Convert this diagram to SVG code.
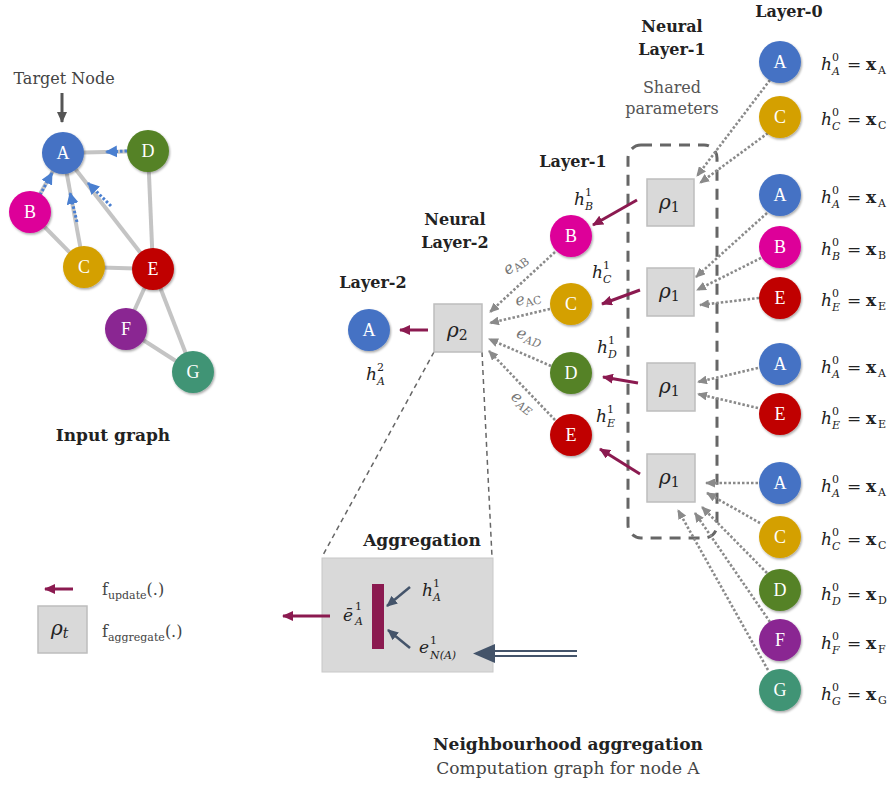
<svg xmlns="http://www.w3.org/2000/svg" width="893" height="787" viewBox="0 0 893 787">
<style>
text{font-family:"DejaVu Serif","Liberation Serif",serif;fill:#222}
.nl{fill:#fff;font-family:"Liberation Serif","DejaVu Serif",serif;font-size:18px;text-anchor:middle}
.ttl{font-weight:bold;font-size:16px;text-anchor:middle;fill:#222}
.reg{font-size:16px;text-anchor:middle;fill:#555}
.m{font-style:italic;font-size:17px}
.s{font-size:11px;font-style:italic}
.sr{font-size:11px;font-style:normal}
.edge{stroke:#c4c4c4;stroke-width:4;fill:none}
.bdot{stroke:#4a7fd0;stroke-width:3;stroke-dasharray:2.5 2;fill:none}
.gdot{stroke:#8a8a8a;stroke-width:2.6;stroke-dasharray:2.5 2;fill:none}
.pur{stroke:#8b1a50;stroke-width:3;fill:none}
.box{fill:#d9d9d9;stroke:#bdbdbd;stroke-width:1.5}
.rho{font-style:italic;font-size:20px}
.el{font-style:italic;font-size:16px;fill:#777;text-anchor:middle}
</style>
<defs>
<filter id="sh" x="-30%" y="-30%" width="160%" height="160%"><feDropShadow dx="1" dy="1.5" stdDeviation="1.2" flood-opacity="0.35"/></filter>
<marker id="ag" markerUnits="userSpaceOnUse" markerWidth="10" markerHeight="9" refX="9" refY="4.5" orient="auto"><path d="M0,0 L10,4.5 L0,9 z" fill="#8a8a8a"/></marker>
<marker id="ab" markerUnits="userSpaceOnUse" markerWidth="12" markerHeight="12" refX="11" refY="6" orient="auto"><path d="M0,0 L12,6 L0,12 z" fill="#4a7fd0"/></marker>
<marker id="ap" markerUnits="userSpaceOnUse" markerWidth="11" markerHeight="10" refX="10" refY="5" orient="auto"><path d="M0,0 L11,5 L0,10 z" fill="#8b1a50"/></marker>
<marker id="ak" markerUnits="userSpaceOnUse" markerWidth="11" markerHeight="10" refX="10" refY="5" orient="auto"><path d="M0,0 L11,5 L0,10 z" fill="#555"/></marker>
<marker id="an" markerUnits="userSpaceOnUse" markerWidth="11" markerHeight="10" refX="10" refY="5" orient="auto"><path d="M0,0 L11,5 L0,10 z" fill="#44546a"/></marker>
</defs>
<rect width="893" height="787" fill="#fff"/>

<!-- Input graph -->
<g id="input-graph-edges">
<line class="edge" x1="63" y1="153" x2="148" y2="151"/>
<line class="edge" x1="63" y1="153" x2="30" y2="212"/>
<line class="edge" x1="63" y1="153" x2="84" y2="267"/>
<line class="edge" x1="63" y1="153" x2="153" y2="269"/>
<line class="edge" x1="30" y1="212" x2="84" y2="267"/>
<line class="edge" x1="84" y1="267" x2="153" y2="269"/>
<line class="edge" x1="148" y1="151" x2="153" y2="269"/>
<line class="edge" x1="153" y1="269" x2="126" y2="329"/>
<line class="edge" x1="153" y1="269" x2="193" y2="372"/>
<line class="edge" x1="126" y1="329" x2="193" y2="372"/>
<line class="bdot" x1="127" y1="151" x2="106" y2="152" marker-end="url(#ab)"/>
<line class="bdot" x1="40" y1="195" x2="52" y2="173" marker-end="url(#ab)"/>
<line class="bdot" x1="77" y1="222" x2="70" y2="193" marker-end="url(#ab)"/>
<line class="bdot" x1="111" y1="206" x2="88" y2="183" marker-end="url(#ab)"/>
<line x1="62" y1="93" x2="62" y2="122" stroke="#555" stroke-width="3" marker-end="url(#ak)"/>
</g>
<text x="64" y="84" style="font-size:16px;text-anchor:middle;fill:#444">Target Node</text>
<g id="in-A"><circle cx="63" cy="153" r="21" fill="#4472c4" filter="url(#sh)"/><text class="nl" x="63" y="159">A</text></g>
<g id="in-D"><circle cx="148" cy="151" r="21" fill="#548226" filter="url(#sh)"/><text class="nl" x="148" y="157">D</text></g>
<g id="in-B"><circle cx="30" cy="212" r="21" fill="#dd0099" filter="url(#sh)"/><text class="nl" x="30" y="218">B</text></g>
<g id="in-C"><circle cx="84" cy="267" r="21" fill="#d4a000" filter="url(#sh)"/><text class="nl" x="84" y="273">C</text></g>
<g id="in-E"><circle cx="153" cy="269" r="21" fill="#c00000" filter="url(#sh)"/><text class="nl" x="153" y="275">E</text></g>
<g id="in-F"><circle cx="126" cy="329" r="21" fill="#8a2592" filter="url(#sh)"/><text class="nl" x="126" y="335">F</text></g>
<g id="in-G"><circle cx="193" cy="372" r="21" fill="#3f9474" filter="url(#sh)"/><text class="nl" x="193" y="378">G</text></g>
<text class="ttl" x="113" y="441" style="font-size:17px">Input graph</text>

<!-- Legend -->
<g id="legend">
<line class="pur" x1="73" y1="589" x2="45" y2="589" marker-end="url(#ap)"/>
<text x="102" y="595" style="font-size:16px;fill:#444">f<tspan style="font-size:11px" dy="4">update</tspan><tspan dy="-4">(.)</tspan></text>
<rect class="box" x="38" y="606" width="49" height="47"/>
<text class="rho" x="51" y="635">ρ<tspan class="s" style="font-size:14px" dy="3">t</tspan></text>
<text x="102" y="637" style="font-size:16px;fill:#444">f<tspan style="font-size:11px" dy="4">aggregate</tspan><tspan dy="-4">(.)</tspan></text>
</g>

<!-- Titles -->
<text class="ttl" x="373" y="288">Layer-2</text>
<text class="ttl" x="455" y="225">Neural</text>
<text class="ttl" x="455" y="248">Layer-2</text>
<text class="ttl" x="573" y="167">Layer-1</text>
<text class="ttl" x="672" y="32">Neural</text>
<text class="ttl" x="672" y="55">Layer-1</text>
<text class="reg" x="672" y="93">Shared</text>
<text class="reg" x="672" y="114">parameters</text>
<text class="ttl" x="789" y="17">Layer-0</text>
<text class="ttl" x="568" y="750" style="font-size:17px">Neighbourhood aggregation</text>
<text class="reg" x="568" y="774" style="font-size:17px;fill:#444">Computation graph for node A</text>

<!-- Connectors -->
<g id="connectors">
<rect x="628" y="145" width="89" height="393" rx="13" fill="none" stroke="#666" stroke-width="3" stroke-dasharray="11 8"/>
<line x1="434" y1="352" x2="323" y2="555" stroke="#666" stroke-width="1.5" stroke-dasharray="5 4"/>
<line x1="482" y1="352" x2="492" y2="557" stroke="#666" stroke-width="1.5" stroke-dasharray="5 4"/>
<line class="pur" x1="428" y1="330" x2="400" y2="330" marker-end="url(#ap)"/>
<line class="gdot" x1="555" y1="252" x2="490" y2="312" marker-end="url(#ag)"/>
<line class="gdot" x1="550" y1="309" x2="490" y2="323" marker-end="url(#ag)"/>
<line class="gdot" x1="551" y1="366" x2="489" y2="339" marker-end="url(#ag)"/>
<line class="gdot" x1="555" y1="420" x2="489" y2="351" marker-end="url(#ag)"/>
<line class="pur" x1="637" y1="200" x2="593" y2="225" marker-end="url(#ap)"/>
<line class="pur" x1="640" y1="290" x2="602" y2="304" marker-end="url(#ap)"/>
<line class="pur" x1="638" y1="383" x2="603" y2="377" marker-end="url(#ap)"/>
<line class="pur" x1="640" y1="474" x2="600" y2="449" marker-end="url(#ap)"/>
<line class="gdot" x1="770" y1="80" x2="697" y2="176" marker-end="url(#ag)"/>
<line class="gdot" x1="768" y1="133" x2="700" y2="183" marker-end="url(#ag)"/>
<line class="gdot" x1="767" y1="213" x2="696" y2="277" marker-end="url(#ag)"/>
<line class="gdot" x1="761" y1="258" x2="697" y2="290" marker-end="url(#ag)"/>
<line class="gdot" x1="759" y1="298" x2="700" y2="305" marker-end="url(#ag)"/>
<line class="gdot" x1="758" y1="368" x2="698" y2="382" marker-end="url(#ag)"/>
<line class="gdot" x1="758" y1="408" x2="698" y2="394" marker-end="url(#ag)"/>
<line class="gdot" x1="758" y1="483" x2="706" y2="483" marker-end="url(#ag)"/>
<line class="gdot" x1="760" y1="523" x2="707" y2="493" marker-end="url(#ag)"/>
<line class="gdot" x1="767" y1="573" x2="702" y2="507" marker-end="url(#ag)"/>
<line class="gdot" x1="770" y1="622" x2="695" y2="513" marker-end="url(#ag)"/>
<line class="gdot" x1="768" y1="670" x2="678" y2="510" marker-end="url(#ag)"/>
</g>

<!-- Edge labels -->
<text class="el" transform="translate(518,268) rotate(-36)">e<tspan class="sr" dy="3">AB</tspan></text>
<text class="el" transform="translate(529,303) rotate(-13)">e<tspan class="sr" dy="3">AC</tspan></text>
<text class="el" transform="translate(528,341) rotate(18)">e<tspan class="s" dy="3">AD</tspan></text>
<text class="el" transform="translate(520,406) rotate(38)">e<tspan class="s" dy="3">AE</tspan></text>

<!-- Layer-2 -->
<g id="l2-A"><circle cx="369" cy="330" r="21" fill="#4472c4" filter="url(#sh)"/><text class="nl" x="369" y="336">A</text></g>
<text class="m" x="366" y="380">h<tspan class="sr" x="377" y="371">2</tspan><tspan class="s" x="377" y="385">A</tspan></text>
<g id="rho2"><rect class="box" x="434" y="304" width="48" height="48"/><text class="rho" x="447" y="337">ρ<tspan class="sr" style="font-size:14px" dy="3">2</tspan></text></g>

<!-- Layer-1 nodes -->
<g id="l1-B"><circle cx="571" cy="236" r="21" fill="#dd0099" filter="url(#sh)"/><text class="nl" x="571" y="242">B</text></g>
<g id="l1-C"><circle cx="571" cy="304" r="21" fill="#d4a000" filter="url(#sh)"/><text class="nl" x="571" y="310">C</text></g>
<g id="l1-D"><circle cx="571" cy="373" r="21" fill="#548226" filter="url(#sh)"/><text class="nl" x="571" y="379">D</text></g>
<g id="l1-E"><circle cx="571" cy="435" r="21" fill="#c00000" filter="url(#sh)"/><text class="nl" x="571" y="441">E</text></g>
<text class="m" x="574" y="205">h<tspan class="sr" x="585" y="196">1</tspan><tspan class="s" x="585" y="210">B</tspan></text>
<text class="m" x="592" y="278">h<tspan class="sr" x="603" y="269">1</tspan><tspan class="s" x="603" y="283">C</tspan></text>
<text class="m" x="597" y="353">h<tspan class="sr" x="608" y="344">1</tspan><tspan class="s" x="608" y="358">D</tspan></text>
<text class="m" x="596" y="422">h<tspan class="sr" x="607" y="413">1</tspan><tspan class="s" x="607" y="427">E</tspan></text>

<!-- rho1 boxes -->
<g id="rho1-a"><rect class="box" x="647" y="179" width="47" height="47"/><text class="rho" x="659" y="209">ρ<tspan class="sr" style="font-size:14px" dy="3">1</tspan></text></g>
<g id="rho1-b"><rect class="box" x="647" y="268" width="47" height="48"/><text class="rho" x="659" y="298">ρ<tspan class="sr" style="font-size:14px" dy="3">1</tspan></text></g>
<g id="rho1-c"><rect class="box" x="647" y="363" width="48" height="48"/><text class="rho" x="659" y="393">ρ<tspan class="sr" style="font-size:14px" dy="3">1</tspan></text></g>
<g id="rho1-d"><rect class="box" x="647" y="454" width="48" height="48"/><text class="rho" x="659" y="484">ρ<tspan class="sr" style="font-size:14px" dy="3">1</tspan></text></g>

<!-- Layer-0 nodes -->
<g id="l0-A1"><circle cx="780" cy="62" r="21" fill="#4472c4" filter="url(#sh)"/><text class="nl" x="780" y="68">A</text></g>
<g id="l0-C1"><circle cx="780" cy="117" r="21" fill="#d4a000" filter="url(#sh)"/><text class="nl" x="780" y="123">C</text></g>
<g id="l0-A2"><circle cx="780" cy="195" r="21" fill="#4472c4" filter="url(#sh)"/><text class="nl" x="780" y="201">A</text></g>
<g id="l0-B2"><circle cx="780" cy="247" r="21" fill="#dd0099" filter="url(#sh)"/><text class="nl" x="780" y="253">B</text></g>
<g id="l0-E2"><circle cx="780" cy="298" r="21" fill="#c00000" filter="url(#sh)"/><text class="nl" x="780" y="304">E</text></g>
<g id="l0-A3"><circle cx="780" cy="364" r="21" fill="#4472c4" filter="url(#sh)"/><text class="nl" x="780" y="370">A</text></g>
<g id="l0-E3"><circle cx="780" cy="414" r="21" fill="#c00000" filter="url(#sh)"/><text class="nl" x="780" y="420">E</text></g>
<g id="l0-A4"><circle cx="780" cy="483" r="21" fill="#4472c4" filter="url(#sh)"/><text class="nl" x="780" y="489">A</text></g>
<g id="l0-C4"><circle cx="780" cy="537" r="21" fill="#d4a000" filter="url(#sh)"/><text class="nl" x="780" y="543">C</text></g>
<g id="l0-D4"><circle cx="780" cy="590" r="21" fill="#548226" filter="url(#sh)"/><text class="nl" x="780" y="596">D</text></g>
<g id="l0-F4"><circle cx="780" cy="640" r="21" fill="#8a2592" filter="url(#sh)"/><text class="nl" x="780" y="646">F</text></g>
<g id="l0-G4"><circle cx="780" cy="690" r="21" fill="#3f9474" filter="url(#sh)"/><text class="nl" x="780" y="696">G</text></g>

<!-- Layer-0 labels -->
<g id="l0-labels">
<text class="m" x="821" y="70">h<tspan class="sr" x="832" y="61">0</tspan><tspan class="s" x="832" y="75">A</tspan><tspan style="font-style:normal" x="847" y="70">=</tspan><tspan style="font-style:normal;font-weight:bold" x="866" y="70">x</tspan><tspan class="sr" x="878" y="74">A</tspan></text>
<text class="m" x="821" y="125">h<tspan class="sr" x="832" y="116">0</tspan><tspan class="s" x="832" y="130">C</tspan><tspan style="font-style:normal" x="847" y="125">=</tspan><tspan style="font-style:normal;font-weight:bold" x="866" y="125">x</tspan><tspan class="sr" x="878" y="129">C</tspan></text>
<text class="m" x="821" y="203">h<tspan class="sr" x="832" y="194">0</tspan><tspan class="s" x="832" y="208">A</tspan><tspan style="font-style:normal" x="847" y="203">=</tspan><tspan style="font-style:normal;font-weight:bold" x="866" y="203">x</tspan><tspan class="sr" x="878" y="207">A</tspan></text>
<text class="m" x="821" y="255">h<tspan class="sr" x="832" y="246">0</tspan><tspan class="s" x="832" y="260">B</tspan><tspan style="font-style:normal" x="847" y="255">=</tspan><tspan style="font-style:normal;font-weight:bold" x="866" y="255">x</tspan><tspan class="sr" x="878" y="259">B</tspan></text>
<text class="m" x="821" y="306">h<tspan class="sr" x="832" y="297">0</tspan><tspan class="s" x="832" y="311">E</tspan><tspan style="font-style:normal" x="847" y="306">=</tspan><tspan style="font-style:normal;font-weight:bold" x="866" y="306">x</tspan><tspan class="sr" x="878" y="310">E</tspan></text>
<text class="m" x="821" y="373">h<tspan class="sr" x="832" y="364">0</tspan><tspan class="s" x="832" y="378">A</tspan><tspan style="font-style:normal" x="847" y="373">=</tspan><tspan style="font-style:normal;font-weight:bold" x="866" y="373">x</tspan><tspan class="sr" x="878" y="377">A</tspan></text>
<text class="m" x="821" y="424">h<tspan class="sr" x="832" y="415">0</tspan><tspan class="s" x="832" y="429">E</tspan><tspan style="font-style:normal" x="847" y="424">=</tspan><tspan style="font-style:normal;font-weight:bold" x="866" y="424">x</tspan><tspan class="sr" x="878" y="428">E</tspan></text>
<text class="m" x="821" y="492">h<tspan class="sr" x="832" y="483">0</tspan><tspan class="s" x="832" y="497">A</tspan><tspan style="font-style:normal" x="847" y="492">=</tspan><tspan style="font-style:normal;font-weight:bold" x="866" y="492">x</tspan><tspan class="sr" x="878" y="496">A</tspan></text>
<text class="m" x="821" y="545">h<tspan class="sr" x="832" y="536">0</tspan><tspan class="s" x="832" y="550">C</tspan><tspan style="font-style:normal" x="847" y="545">=</tspan><tspan style="font-style:normal;font-weight:bold" x="866" y="545">x</tspan><tspan class="sr" x="878" y="549">C</tspan></text>
<text class="m" x="821" y="600">h<tspan class="sr" x="832" y="591">0</tspan><tspan class="s" x="832" y="605">D</tspan><tspan style="font-style:normal" x="847" y="600">=</tspan><tspan style="font-style:normal;font-weight:bold" x="866" y="600">x</tspan><tspan class="sr" x="878" y="604">D</tspan></text>
<text class="m" x="821" y="649">h<tspan class="sr" x="832" y="640">0</tspan><tspan class="s" x="832" y="654">F</tspan><tspan style="font-style:normal" x="847" y="649">=</tspan><tspan style="font-style:normal;font-weight:bold" x="866" y="649">x</tspan><tspan class="sr" x="878" y="653">F</tspan></text>
<text class="m" x="821" y="700">h<tspan class="sr" x="832" y="691">0</tspan><tspan class="s" x="832" y="705">G</tspan><tspan style="font-style:normal" x="847" y="700">=</tspan><tspan style="font-style:normal;font-weight:bold" x="866" y="700">x</tspan><tspan class="sr" x="878" y="704">G</tspan></text>
</g>

<!-- Aggregation -->
<g id="aggregation">
<text class="ttl" x="422" y="546" style="font-size:17px">Aggregation</text>
<rect x="322" y="558" width="171" height="114" fill="#d9d9d9" stroke="#c8c8c8" stroke-width="1"/>
<rect x="372" y="584" width="12" height="65" fill="#8b1a50"/>
<line x1="410" y1="587" x2="387" y2="606" stroke="#44546a" stroke-width="2.5" marker-end="url(#an)"/>
<line x1="410" y1="648" x2="388" y2="630" stroke="#44546a" stroke-width="2.5" marker-end="url(#an)"/>
<text class="m" x="343" y="621">ē<tspan class="sr" x="355" y="610">1</tspan><tspan class="s" x="355" y="625">A</tspan></text>
<text class="m" x="422" y="596">h<tspan class="sr" x="433" y="587">1</tspan><tspan class="s" x="433" y="601">A</tspan></text>
<text class="m" x="419" y="653">e<tspan class="sr" x="430" y="644">1</tspan><tspan class="s" x="430" y="659">N(A)</tspan></text>
<line class="pur" x1="330" y1="616" x2="283" y2="616" marker-end="url(#ap)"/>
<line x1="492" y1="651" x2="577" y2="651" stroke="#44546a" stroke-width="2"/>
<line x1="492" y1="656" x2="577" y2="656" stroke="#44546a" stroke-width="2"/>
<path d="M473,653.5 L495,644 L495,663 z" fill="#44546a"/>
</g>
</svg>
